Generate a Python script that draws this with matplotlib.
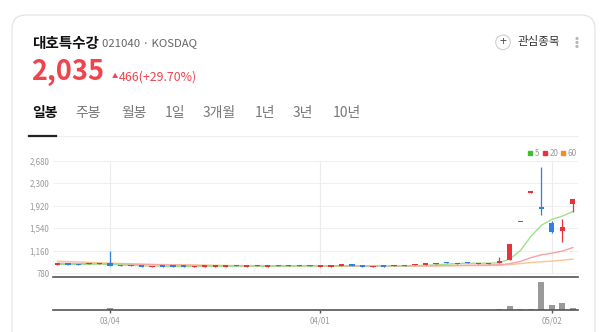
import matplotlib
matplotlib.use("Agg")
import matplotlib.pyplot as plt
import matplotlib.transforms as mtransforms
from matplotlib.patches import FancyBboxPatch, Rectangle, Circle

plt.rcParams['font.family'] = ['Noto Sans CJK KR', 'DejaVu Sans']

# daily candles, 2025-02-24 .. 2025-05-08
opens = [925, 945, 935, 930, 937, 957, 917, 917, 912, 887,
         907, 907, 907, 880, 892, 892, 890, 917, 893, 897,
         893, 917, 897, 917, 917, 892, 892, 910, 924, 912,
         881, 912, 898, 916, 914, 926, 937, 967, 937, 967,
         937, 937, 958, 1003, 1645, 2140, 1905, 1627, 1490, 1951]
closes = [945, 925, 915, 950, 957, 902, 897, 897, 892, 907,
          888, 888, 888, 900, 912, 912, 908, 897, 911, 915,
          911, 897, 915, 897, 897, 910, 910, 928, 905, 893,
          899, 893, 916, 898, 934, 946, 957, 947, 957, 947,
          957, 957, 975, 1268, 1651, 2146, 1860, 1480, 1569, 2035]
highs = [945, 945, 935, 950, 957, 1150, 917, 917, 912, 907,
         907, 907, 907, 900, 912, 912, 908, 917, 911, 915,
         911, 917, 915, 917, 917, 910, 910, 928, 924, 912,
         899, 912, 916, 916, 934, 946, 957, 967, 957, 967,
         957, 957, 1050, 1268, 1651, 2146, 2576, 1660, 1700, 2035]
lows = [925, 925, 915, 930, 937, 900, 897, 897, 892, 887,
        888, 888, 888, 880, 892, 892, 890, 897, 893, 897,
        893, 897, 897, 897, 897, 892, 892, 910, 905, 893,
        881, 893, 898, 898, 914, 926, 937, 947, 937, 947,
        937, 937, 950, 1000, 1645, 2140, 1768, 1460, 1309, 1811]
volumes = [0.5, 0.5, 0.4, 0.4, 0.5, 2.2, 0.5, 0.4, 0.4, 0.3,
           0.3, 0.3, 0.3, 0.3, 0.3, 0.3, 0.3, 0.3, 0.3, 0.3,
           0.3, 0.3, 0.3, 0.3, 0.3, 0.3, 0.3, 0.3, 0.3, 0.3,
           0.3, 0.3, 0.3, 0.3, 0.3, 0.3, 0.3, 0.3, 0.3, 0.3,
           0.3, 0.3, 0.6, 4.0, 0.7, 0.7, 28.3, 4.7, 7.0, 1.7]
ma5 = [930, 932, 930, 933, 937, 930, 922, 914, 907, 902,
       900, 898, 897, 895, 896, 898, 899, 900, 900, 901,
       901, 901, 901, 901, 901, 902, 903, 906, 908, 908,
       906, 905, 904, 905, 910, 915, 925, 935, 945, 950,
       951, 951, 957, 1020, 1160, 1400, 1589, 1689, 1744, 1823]
ma20 = [950, 948, 945, 943, 940, 938, 935, 932, 929, 926,
        923, 920, 917, 914, 911, 909, 907, 905, 904, 903,
        902, 901, 900, 900, 900, 900, 900, 901, 901, 901,
        901, 902, 902, 903, 904, 906, 908, 911, 913, 916,
        918, 921, 925, 942, 980, 1043, 1091, 1120, 1154, 1215]
ma60 = [985, 978, 972, 965, 958, 952, 946, 941, 936, 932,
        928, 925, 922, 919, 917, 915, 913, 911, 910, 909,
        908, 907, 906, 906, 905, 905, 905, 905, 905, 905,
        905, 905, 905, 905, 906, 906, 907, 908, 909, 910,
        911, 912, 914, 925, 945, 962, 975, 986, 1000, 1019]
tick_idx = [5, 25, 47]
tick_labels = ['03/04', '04/01', '05/02']
price_ticks = [780, 1160, 1540, 1920, 2300, 2680]

RED = '#e8333c'
BLUE = '#2f7fe8'

fig = plt.figure(figsize=(6, 3.32), dpi=100)
fig.patch.set_facecolor('white')
# pixel transform, origin top-left
P = mtransforms.Affine2D().scale(1 / 100, -1 / 100).translate(0, 3.32) + fig.dpi_scale_trans

card = FancyBboxPatch((12, 15), 583, 340, boxstyle="round,pad=0,rounding_size=14",
                      transform=P, facecolor='white', edgecolor='#e4e4e4', lw=0.9, zorder=-5)
fig.patches.append(card)

fig.text(32, 43, '대호특수강', transform=P, fontsize=10.5, fontweight='bold',
         color='#111111', va='center', ha='left')
fig.text(102, 43.5, '021040 · KOSDAQ', transform=P, fontsize=8.2, color='#666666',
         va='center', ha='left')
fig.text(31, 72, '2,035', transform=P, fontsize=19.5, fontweight='bold',
         color='#f0444d', va='center', ha='left')
fig.text(112, 76.5, '▲', transform=P, fontsize=4.5, color='#f0444d', va='center', ha='left')
fig.text(118.5, 77.5, '466(+29.70%)', transform=P, fontsize=8.9, color='#f0444d',
         va='center', ha='left')

fig.patches.append(Circle((503, 42.3), 7.3, transform=P, facecolor='white',
                          edgecolor='#d0d0d0', lw=0.8))
fig.text(503, 42, '+', transform=P, fontsize=9, color='#555555', va='center', ha='center')
fig.text(517, 42, '관심종목', transform=P, fontsize=8.3, color='#333333', va='center', ha='left')
for dy in (38.5, 42.5, 46.5):
    fig.patches.append(Circle((577, dy), 0.9, transform=P, color='#b8b8b8'))

tabs = ['일봉', '주봉', '월봉', '1일', '3개월', '1년', '3년', '10년']
tab_x = [32, 75, 121, 165, 203, 255, 293, 333]
for t, x in zip(tabs, tab_x):
    sel = t == '일봉'
    fig.text(x, 113, t, transform=P, fontsize=10, va='center', ha='left',
             color='#111111' if sel else '#777777', fontweight='bold' if sel else 'normal')
fig.lines.append(plt.Line2D([29, 578], [136, 136], transform=P, color='#eeeeee', lw=0.8))
fig.lines.append(plt.Line2D([29, 56], [135.5, 135.5], transform=P, color='#222222', lw=1.6))

# price panel
x0, x1 = -0.42, 49.49
ax = fig.add_axes([53 / 600, 1 - 277 / 332, 525 / 600, 127 / 332])
ax.set_xlim(x0, x1)
ax.set_ylim(718, 2859)
ax.patch.set_alpha(0)
ax.hlines(price_ticks, x0, x1, color='#f0f0f0', lw=0.8, zorder=0)
ax.vlines(tick_idx, 780, 2680, color='#ececec', lw=0.8, zorder=0)
ax.set_yticks(price_ticks)
ax.set_yticklabels([f'{v:,}' for v in price_ticks])
ax.tick_params(axis='y', length=0, pad=2.5, labelsize=5.7, labelcolor='#999999')
ax.set_xticks([])
for s in ['top', 'right', 'left']:
    ax.spines[s].set_visible(False)
ax.spines['bottom'].set_color('#555555')
ax.spines['bottom'].set_linewidth(1.2)

xs = list(range(len(closes)))
ax.plot(xs, ma60, color='#fbc392', lw=1.0, zorder=1)
ax.plot(xs, ma20, color='#f8a3a6', lw=1.0, zorder=1)
ax.plot(xs, ma5, color='#9fe08f', lw=1.0, zorder=1)

for i in xs:
    c = RED if closes[i] >= opens[i] else BLUE
    ax.vlines(i, lows[i], highs[i], color=c, lw=0.9, zorder=2)
    lo = min(opens[i], closes[i])
    h = max(abs(closes[i] - opens[i]), 24)
    ax.bar(i, h, bottom=lo, width=0.5, color=c, lw=0, zorder=3)

# legend
for sx, tx, col, lab in [(528, 535, '#3cc22b', '5'), (543, 550, '#ee2e3c', '20'),
                         (561, 568, '#f68b1f', '60')]:
    fig.patches.append(Rectangle((sx, 151.3), 4, 4, transform=P, color=col))
    fig.text(tx, 153.5, lab, transform=P, fontsize=5.8, color='#999999',
             va='center', ha='left')

# volume panel
vax = fig.add_axes([53 / 600, 1 - 310 / 332, 525 / 600, 33 / 332])
vax.set_xlim(x0, x1)
vax.set_ylim(0, 33)
vax.patch.set_alpha(0)
vax.bar(xs, volumes, width=0.55, color='#9a9a9a', lw=0)
vax.set_yticks([])
vax.set_xticks(tick_idx)
vax.set_xticklabels(tick_labels)
vax.tick_params(axis='x', length=2, width=1, color='#555555', pad=3,
                labelsize=5.7, labelcolor='#999999')
for s in ['top', 'right', 'left']:
    vax.spines[s].set_visible(False)
vax.spines['bottom'].set_color('#555555')
vax.spines['bottom'].set_linewidth(1.2)

fig.savefig('out.png', dpi=100, facecolor='white')
